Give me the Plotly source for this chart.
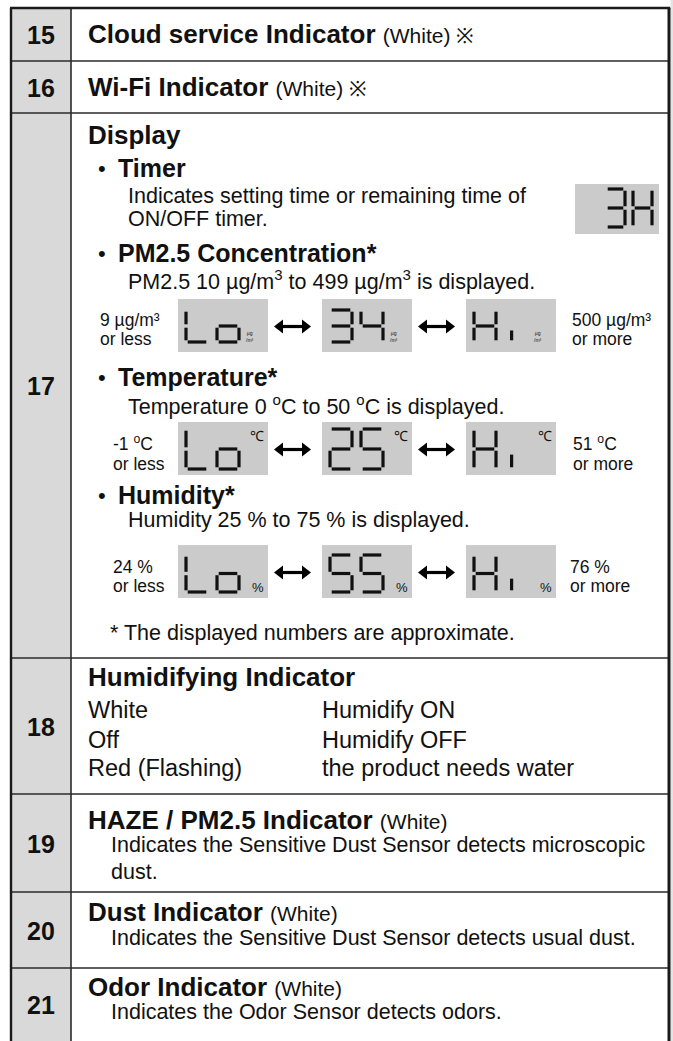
import plotly.graph_objects as go

W, H = 673, 1041
FONT = "Liberation Sans, Arial, Helvetica, sans-serif"
INK = "#111111"

# ---------------- content ----------------
row_numbers = ["15", "16", "17", "18", "19", "20", "21"]
row_titles = ["Cloud service Indicator", "Wi-Fi Indicator", "Display", "Humidifying Indicator",
              "HAZE / PM2.5 Indicator", "Dust Indicator", "Odor Indicator"]
row_notes = ["(White) ※", "(White) ※", "", "", "(White)", "(White)", "(White)"]

display_sections = ["Timer", "PM2.5 Concentration*", "Temperature*", "Humidity*"]
display_descriptions = [
    ["Indicates setting time or remaining time of", "ON/OFF timer."],
    ["PM2.5 10 µg/m<sup>3</sup> to 499 µg/m<sup>3</sup> is displayed."],
    ["Temperature 0 <sup>o</sup>C to 50 <sup>o</sup>C is displayed."],
    ["Humidity 25 % to 75 % is displayed."],
]
timer_readout = "3H"
pm_readouts = ["Lo", "34", "Hi"]
temp_readouts = ["Lo", "25", "Hi"]
hum_readouts = ["Lo", "55", "Hi"]
pm_limits = [["9 µg/m³", "or less"], ["500 µg/m³", "or more"]]
temp_limits = [["-1 <sup>o</sup>C", "or less"], ["51 <sup>o</sup>C", "or more"]]
hum_limits = [["24 %", "or less"], ["76 %", "or more"]]
pm_unit = "µg<br>/m³"
temp_unit = "℃"
hum_unit = "%"
footnote = "* The displayed numbers are approximate."

humid_states = ["White", "Off", "Red (Flashing)"]
humid_meanings = ["Humidify ON", "Humidify OFF", "the product needs water"]
sensor_descriptions = [
    ["Indicates the Sensitive Dust Sensor detects microscopic", "dust."],
    ["Indicates the Sensitive Dust Sensor detects usual dust."],
    ["Indicates the Odor Sensor detects odors."],
]

# ---------------- layout constants (page pixels) ----------------
X_LEFT, X_COL, X_RIGHT = 11, 71, 669
row_edges = [8, 61, 113, 658, 794, 892, 968, 1041]
title_y = [34, 87, 135, 677, 820, 912, 987]
section_y = [168, 253, 377, 495]
desc_y = [[196, 219], [280], [405], [520]]
box_x = [178, 322, 466]
box_w = 90
readout_rows = [  # top, height, digit top offset, digit height
    dict(top=299, h=53, dtop=11, dh=32),
    dict(top=422, h=53, dtop=7, dh=40),
    dict(top=545, h=53, dtop=10, dh=37),
]
limit_x = [[98, 570], [111, 571], [111, 568]]
limit_y = [[320, 339], [443, 464], [567, 586]]
humid_y = [710, 740, 768]
sensor_y = [[845, 872], [938], [1012]]

fig = go.Figure()
shapes = []
ann = []


def txt(x, y, s, size, bold=False, anchor="left"):
    ann.append(dict(x=x, y=y, xref="x", yref="y", text=f"<b>{s}</b>" if bold else s,
                    showarrow=False, xanchor=anchor, yanchor="middle",
                    font=dict(size=size, family=FONT, color=INK)))


# background strip at the right edge
shapes.append(dict(type="rect", x0=670.5, x1=W, y0=0, y1=H, fillcolor="#e4e4e4",
                   line=dict(width=0), layer="below"))
# number column fill
shapes.append(dict(type="rect", x0=X_LEFT, x1=X_COL, y0=row_edges[0], y1=H,
                   fillcolor="#d9d9d9", line=dict(width=0), layer="below"))

# LCD boxes
lcd_boxes = []
for r in readout_rows:
    for bx in box_x:
        lcd_boxes.append((bx, r["top"], bx + box_w, r["top"] + r["h"]))
lcd_boxes.append((575, 184, 659, 234))
for (x0, y0, x1, y1) in lcd_boxes:
    shapes.append(dict(type="rect", x0=x0, x1=x1, y0=y0, y1=y1, fillcolor="#cbcbcb",
                       line=dict(width=0), layer="below"))

# grid lines
for y in row_edges[1:-1]:
    shapes.append(dict(type="line", x0=X_LEFT, x1=X_RIGHT, y0=y, y1=y,
                       line=dict(color="#2a2a2a", width=1.6)))
shapes.append(dict(type="line", x0=X_COL, x1=X_COL, y0=row_edges[0], y1=H,
                   line=dict(color="#2a2a2a", width=1.6)))
shapes.append(dict(type="line", x0=X_LEFT - 1, x1=X_RIGHT + 1.2, y0=row_edges[0], y1=row_edges[0],
                   line=dict(color="#1a1a1a", width=2.6)))
shapes.append(dict(type="line", x0=X_LEFT, x1=X_LEFT, y0=row_edges[0], y1=H,
                   line=dict(color="#1a1a1a", width=2.4)))
shapes.append(dict(type="line", x0=X_RIGHT, x1=X_RIGHT, y0=row_edges[0], y1=H,
                   line=dict(color="#1a1a1a", width=3)))

# row numbers and titles
for i, num in enumerate(row_numbers):
    txt((X_LEFT + X_COL) / 2, (row_edges[i] + row_edges[i + 1]) / 2 + 0.5, num, 25, bold=True,
        anchor="center")
    t = f"<b>{row_titles[i]}</b>"
    if row_notes[i]:
        t += f" <span style='font-size:21px'>{row_notes[i]}</span>"
    txt(86, title_y[i], t, 26)

# display sub-sections
for i, sec in enumerate(display_sections):
    txt(96, section_y[i], "•", 22)
    txt(116, section_y[i], sec, 25, bold=True)
    for j, line in enumerate(display_descriptions[i]):
        txt(126, desc_y[i][j], line, 21.5)
txt(108, 633, footnote, 21.5)

# limit labels
for k, lims in enumerate([pm_limits, temp_limits, hum_limits]):
    for side in range(2):
        for j in range(2):
            txt(limit_x[k][side], limit_y[k][j], lims[side][j], 17.5)

# seven segment readouts
SEG = {"0": "abcdef", "1": "bc", "2": "abged", "3": "abgcd", "4": "fgbc", "5": "afgcd",
       "H": "fbgec", "L": "fed", "o": "gcde", "i": "I"}


def seg_lines(ch, x0, y0, w, h, gap=1.7):
    m = y0 + h / 2
    geo = {
        "a": ((x0 + gap, y0), (x0 + w - gap, y0)),
        "b": ((x0 + w, y0 + gap), (x0 + w, m - gap)),
        "c": ((x0 + w, m + gap), (x0 + w, y0 + h - gap)),
        "d": ((x0 + gap, y0 + h), (x0 + w - gap, y0 + h)),
        "e": ((x0, m + gap), (x0, y0 + h - gap)),
        "f": ((x0, y0 + gap), (x0, m - gap)),
        "g": ((x0 + gap, m), (x0 + w - gap, m)),
        "I": ((x0 + 0.3 * w, y0 + 0.64 * h), (x0 + 0.3 * w, y0 + h - gap)),
    }
    return [geo[s] for s in SEG[ch]]


sx, sy = [], []


def draw_readout(text, x0, y0, w, h, pitch):
    for n, ch in enumerate(text):
        for (p, q) in seg_lines(ch, x0 + n * pitch, y0, w, h):
            sx.extend([p[0], q[0], None])
            sy.extend([p[1], q[1], None])


for r, reads in zip(readout_rows, [pm_readouts, temp_readouts, hum_readouts]):
    for bx, rd in zip(box_x, reads):
        draw_readout(rd, bx + 8, r["top"] + r["dtop"], 22, r["dh"], 31)
draw_readout(timer_readout, 606, 189, 19, 38, 27)

fig.add_trace(go.Scatter(x=sx, y=sy, mode="lines", line=dict(color="#111111", width=3.2),
                         hoverinfo="skip", showlegend=False))

# unit marks inside boxes
for bx in box_x:
    ann.append(dict(x=bx + 72, y=readout_rows[0]["top"] + 37, xref="x", yref="y", text=pm_unit,
                    showarrow=False, xanchor="center", yanchor="middle",
                    font=dict(size=5, family=FONT, color=INK)))
    txt(bx + 79, readout_rows[1]["top"] + 14, temp_unit, 14, anchor="center")
    txt(bx + 80, readout_rows[2]["top"] + 42, hum_unit, 13, anchor="center")

# double arrows
ax, ay = [], []
mx_l, my_l, mx_r, my_r = [], [], [], []
for r in readout_rows:
    yc = r["top"] + r["h"] / 2 + 1
    for k in range(2):
        xa = box_x[k] + box_w + 7
        xb = box_x[k + 1] - 12
        ax.extend([xa + 6, xb - 6, None])
        ay.extend([yc, yc, None])
        mx_l.append(xa + 5); my_l.append(yc)
        mx_r.append(xb - 5); my_r.append(yc)
fig.add_trace(go.Scatter(x=ax, y=ay, mode="lines", line=dict(color="#000", width=3.2),
                         hoverinfo="skip", showlegend=False))
fig.add_trace(go.Scatter(x=mx_l, y=my_l, mode="markers",
                         marker=dict(symbol="triangle-left", size=12, color="#000"),
                         hoverinfo="skip", showlegend=False))
fig.add_trace(go.Scatter(x=mx_r, y=my_r, mode="markers",
                         marker=dict(symbol="triangle-right", size=12, color="#000"),
                         hoverinfo="skip", showlegend=False))

# humidifying indicator table
for j in range(3):
    txt(86, humid_y[j], humid_states[j], 23.5)
    txt(320, humid_y[j], humid_meanings[j], 23.5)

# sensor descriptions
for k, lines in enumerate(sensor_descriptions):
    for j, line in enumerate(lines):
        txt(109, sensor_y[k][j], line, 21.5)

fig.update_layout(
    width=W, height=H, margin=dict(l=0, r=0, t=0, b=0),
    paper_bgcolor="white", plot_bgcolor="white",
    xaxis=dict(range=[0, W], visible=False, fixedrange=True),
    yaxis=dict(range=[H, 0], visible=False, fixedrange=True),
    shapes=shapes, annotations=ann, showlegend=False,
)
# remove the browser's default page margin so figure pixels equal page pixels
fig.write_html("out.html", config={"displayModeBar": False}, post_script=(
    "document.body.style.margin='0';"
    "document.documentElement.style.overflow='hidden';"
    "document.body.style.overflow='hidden';"))
